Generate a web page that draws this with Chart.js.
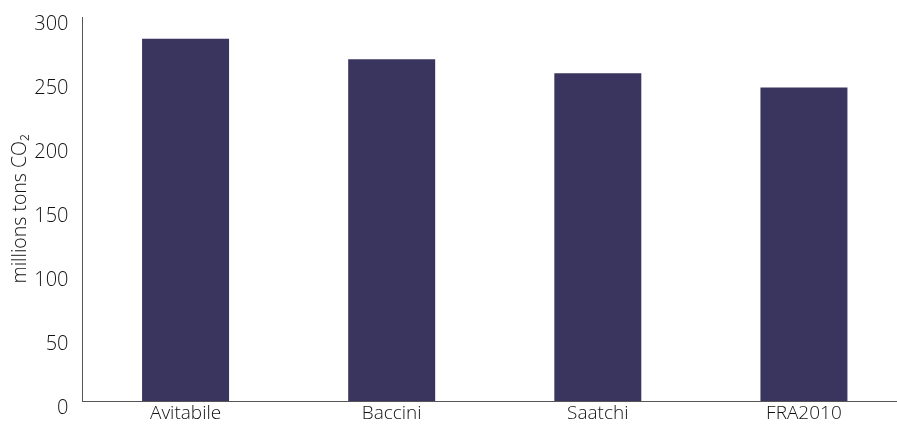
<!DOCTYPE html>
<html>
<head>
<meta charset="utf-8">
<script src="https://cdn.jsdelivr.net/npm/chart.js@4/dist/chart.umd.min.js"></script>
<style>
  html, body { margin: 0; padding: 0; background: #ffffff; overflow: hidden; }
  #wrap { position: relative; width: 910px; height: 426px; }
</style>
</head>
<body>
<div id="wrap"><canvas id="chart"></canvas></div>
<script>
// Above-ground biomass estimates, millions of tons CO2
const categories = ['Avitabile', 'Baccini', 'Saatchi', 'FRA2010'];
const emissions = [283, 267, 256, 245];
const yTicks = [0, 50, 100, 150, 200, 250, 300];

const barColor = '#3a355e';
const textColor = '#111111';
const axisColor = '#555555';
const fontFamily = '"Open Sans", "Noto Sans", sans-serif';

new Chart(document.getElementById('chart'), {
  type: 'bar',
  data: {
    labels: categories,
    datasets: [{
      data: emissions,
      backgroundColor: barColor,
      borderWidth: 0,
      barPercentage: 0.422,
      categoryPercentage: 1.0
    }]
  },
  options: {
    responsive: true,
    maintainAspectRatio: false,
    animation: false,
    layout: { padding: { top: 17, left: 0, right: 3, bottom: 0 } },
    plugins: { legend: { display: false }, tooltip: { enabled: false } },
    scales: {
      x: {
        grid: { display: false, drawTicks: false },
        border: { display: true, color: axisColor, width: 1 },
        ticks: {
          color: textColor,
          font: { family: fontFamily, size: 19, weight: 300 },
          padding: 1,
          maxRotation: 0
        },
        afterFit(scale) { scale.height = 25; }
      },
      y: {
        min: 0,
        max: 300,
        grid: { display: false, drawTicks: false },
        border: { display: true, color: axisColor, width: 1 },
        afterBuildTicks(scale) { scale.ticks = yTicks.map(v => ({ value: v })); },
        ticks: {
          color: textColor,
          font: { family: fontFamily, size: 20, weight: 300 },
          padding: 14,
          labelOffset: 7
        },
        title: {
          display: true,
          text: 'millions tons CO₂',
          color: textColor,
          font: { family: fontFamily, size: 19.5, weight: 300 },
          padding: { top: 9, bottom: 0 }
        },
        afterFit(scale) {
          scale.width = 82.5;
          scale.paddingTop = 0;
          scale.paddingBottom = 0;
        }
      }
    }
  }
});
</script>
</body>
</html>
